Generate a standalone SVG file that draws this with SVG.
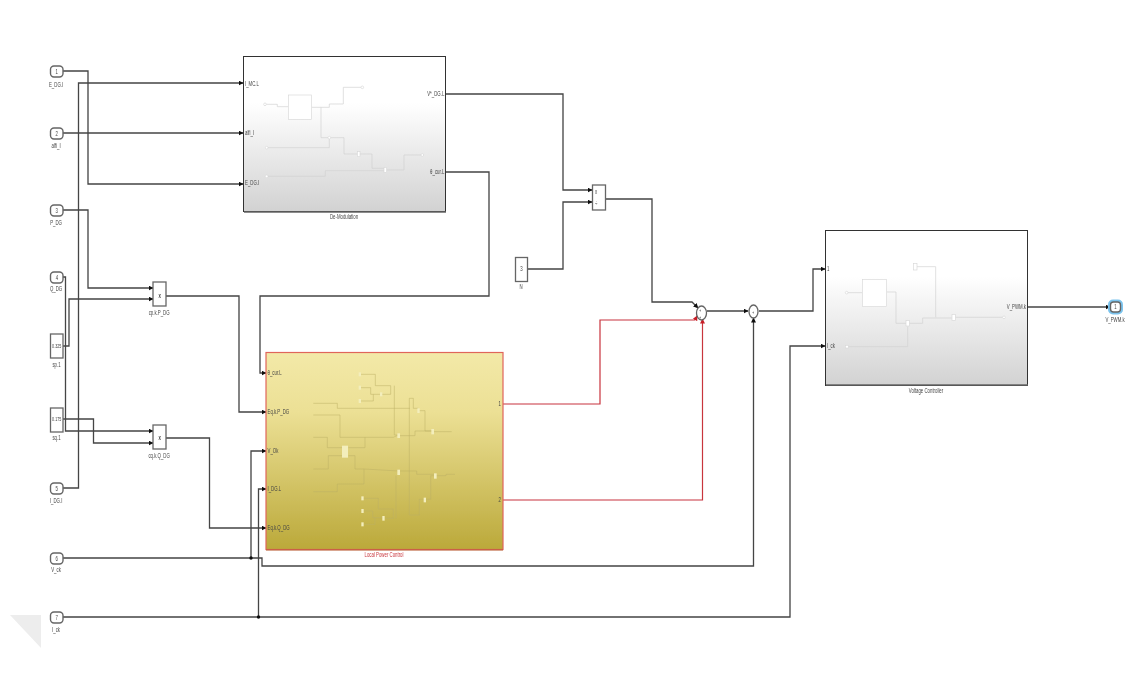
<svg xmlns="http://www.w3.org/2000/svg" width="1129" height="673" viewBox="0 0 1129 673">
<style>
text{font-family:"Liberation Sans",Arial,sans-serif;font-size:7px;fill:#444;text-anchor:middle;transform-box:fill-box;transform-origin:center;transform:scaleX(.62)}
text.l{text-anchor:start;transform-origin:left center}
text.r{text-anchor:end;transform-origin:right center}
.w{fill:none;stroke:#444;stroke-width:1.300}
.red{fill:none;stroke:#c8343c;stroke-width:1.200}
.b{fill:#fff;stroke:#666;stroke-width:1.300}
.s{fill:#fff;stroke:#666;stroke-width:1.400}
.ghost{fill:none;stroke:#d2d2d2;stroke-width:2}
.gb{fill:#fff;stroke:#d8d8d8;stroke-width:2}
.gy{fill:none;stroke:#bcb066;stroke-width:1.500}
.yb{fill:#f3eebc;stroke:none}
</style>
<defs>
<filter id="soft" x="0" y="0" width="1129" height="673" filterUnits="userSpaceOnUse"><feGaussianBlur stdDeviation=".35"/></filter>
<linearGradient id="g" x1="0" y1="0" x2="0" y2="1"><stop offset=".3" stop-color="#fff"/><stop offset="1" stop-color="#d2d2d2"/></linearGradient>
<linearGradient id="y" x1="0" y1="0" x2="0" y2="1"><stop offset="0" stop-color="#f3e9a8"/><stop offset=".3" stop-color="#ece095"/><stop offset="1" stop-color="#bba93a"/></linearGradient>
<marker id="a" markerWidth="5" markerHeight="5" refX="4.500" refY="2.500" orient="auto" markerUnits="userSpaceOnUse"><path d="M0 0L5 2.500L0 5Z" fill="#111"/></marker>
<marker id="ar" markerWidth="5" markerHeight="5" refX="4.500" refY="2.500" orient="auto" markerUnits="userSpaceOnUse"><path d="M0 0L5 2.500L0 5Z" fill="#c81e28"/></marker>
</defs>
<g filter="url(#soft)">
<path d="M10 615H41V648Z" fill="#ededed"/>

<g id="connectors">
<path class="w" marker-end="url(#a)" d="M63 71H88V184H243"/>
<path class="w" marker-end="url(#a)" d="M63 488H78.500V83H243"/>
<path class="w" marker-end="url(#a)" d="M63 133H243"/>
<path class="w" marker-end="url(#a)" d="M63 210H88V288H153"/>
<path class="w" marker-end="url(#a)" d="M63 277H65.500V431H153"/>
<path class="w" marker-end="url(#a)" d="M63 346H69V299H153"/>
<path class="w" marker-end="url(#a)" d="M63 419H93.500V443H153"/>
<path class="w" marker-end="url(#a)" d="M165 296H239V412H266"/>
<path class="w" marker-end="url(#a)" d="M165 438H209.500V528H266"/>
<path class="w" marker-end="url(#a)" d="M445 94H563V190H592"/>
<path class="w" marker-end="url(#a)" d="M527 269H563V202H592"/>
<path class="w" marker-end="url(#a)" d="M445 172H489V296H260V373H266"/>
<path class="w" marker-end="url(#a)" d="M606 199H652V302H692L698 308"/>
<path class="red" marker-end="url(#ar)" d="M503 404H600V320H695L697 316"/>
<path class="red" marker-end="url(#ar)" d="M503 500H702.500V319"/>
<path class="w" marker-end="url(#a)" d="M707 311H748"/>
<path class="w" marker-end="url(#a)" d="M63 558H262V566H753.500V318"/>
<path class="w" marker-end="url(#a)" d="M251 558V451H266"/>
<path class="w" marker-end="url(#a)" d="M63 617H790V346H825"/>
<path class="w" marker-end="url(#a)" d="M258.500 617V489H266"/>
<path class="w" marker-end="url(#a)" d="M759 311H813V269H825"/>
<path class="w" marker-end="url(#a)" d="M1027 307H1110"/>
<circle cx="251" cy="558" r="1.700" fill="#111"/>
<circle cx="258.500" cy="617" r="1.700" fill="#111"/>
</g>

<g id="in1"><rect class="s" x="50.500" y="66" width="12.500" height="11" rx="3.500"/><text x="56.700" y="74">1</text><text x="56" y="87">E_DG.I</text></g>
<g id="in2"><rect class="s" x="50.500" y="128" width="12.500" height="11" rx="3.500"/><text x="56.700" y="136">2</text><text x="56" y="148">alfi_I</text></g>
<g id="in3"><rect class="s" x="50.500" y="205" width="12.500" height="11" rx="3.500"/><text x="56.700" y="213">3</text><text x="56" y="225">P_DG</text></g>
<g id="in4"><rect class="s" x="50.500" y="272" width="12.500" height="11" rx="3.500"/><text x="56.700" y="280">4</text><text x="56" y="291">Q_DG</text></g>
<g id="in5"><rect class="s" x="50.500" y="483" width="12.500" height="11" rx="3.500"/><text x="56.700" y="491">5</text><text x="56" y="503">I_DG.I</text></g>
<g id="in6"><rect class="s" x="50.500" y="553" width="12.500" height="11" rx="3.500"/><text x="56.700" y="561">6</text><text x="56" y="572">V_ck</text></g>
<g id="in7"><rect class="s" x="50.500" y="612" width="12.500" height="11" rx="3.500"/><text x="56.700" y="620">7</text><text x="56" y="632">I_ck</text></g>

<g id="const-sp"><rect class="b" x="50.500" y="334" width="12.500" height="24"/><text x="56.700" y="348.500" style="font-size:6px">0.325</text><text x="56.500" y="367">sp.1</text></g>
<g id="const-sq"><rect class="b" x="50.500" y="408" width="12.500" height="24"/><text x="56.700" y="421.500" style="font-size:6px">0.175</text><text x="56.500" y="440">sq.1</text></g>
<g id="const-n"><rect class="b" x="515.500" y="257.500" width="12" height="24"/><text x="521.500" y="271">3</text><text x="521" y="289">N</text></g>

<g id="prod-p"><rect class="b" x="153" y="282" width="13" height="24"/><text x="159.500" y="298" style="font-weight:bold">x</text><text x="159" y="315">cp.k.P_DG</text></g>
<g id="prod-q"><rect class="b" x="153" y="425" width="13" height="24"/><text x="159.500" y="440" style="font-weight:bold">x</text><text x="159" y="458">cq.k.Q_DG</text></g>
<g id="prod-n"><rect class="b" x="592.500" y="185" width="13" height="25"/><text x="596" y="194">x</text><text x="596" y="206">÷</text></g>

<g id="sum1"><ellipse cx="701.500" cy="313" rx="5" ry="7" fill="#fff" stroke="#666" stroke-width="1.300"/><text x="700" y="312" style="font-size:5px">+</text><text x="700" y="319" style="font-size:5px">+</text></g>
<g id="sum2"><ellipse cx="753.500" cy="311.500" rx="4.500" ry="6.500" fill="#fff" stroke="#666" stroke-width="1.300"/><text x="753" y="314" style="font-size:5px">+</text></g>

<g id="demod">
<rect x="243.500" y="56.500" width="202" height="155" fill="url(#g)" stroke="#333"/>
<path d="M244 212H446" stroke="#666" stroke-width="1.500"/>
<g transform="translate(240 50) scale(.33333)">
<path class="ghost" d="M75 163H112V170H145M215 172H268V162H310V112H365M243 172V263H268M80 293H268V263M268 263H312V312H355M360 312H396V355H432M80 379H256V362H432M438 360H492V315H547"/>
<circle class="gb" cx="75" cy="163" r="4"/><circle class="gb" cx="367" cy="112" r="4"/><circle class="gb" cx="80" cy="293" r="4"/><circle class="gb" cx="80" cy="379" r="4"/><circle class="gb" cx="547" cy="315" r="4"/><circle class="gb" cx="268" cy="263" r="4"/>
<rect class="gb" x="145" y="135" width="70" height="73"/><rect class="gb" x="352" y="305" width="8" height="15"/><rect class="gb" x="432" y="352" width="8" height="15"/>
</g>
<text class="l" x="245" y="86">I_MC.L</text><text class="l" x="245" y="135">alfi_I</text><text class="l" x="245" y="185">E_DG.I</text>
<text class="r" x="444" y="96">V*_DG.L</text><text class="r" x="444" y="174">θ_cur.L</text>
<text x="344" y="219">De-Modulation</text>
</g>

<g id="lpc">
<rect x="266" y="352.500" width="237" height="197" fill="url(#y)" stroke="#e0655a" stroke-width="1.200"/>
<path d="M266 550H503" stroke="#b55a34" stroke-width="1.200"/>
<g transform="translate(260 345) scale(.33333)">
<path class="gy" d="M300 88H346V122H392M300 128H332V148H362M300 168H340V148M365 148H392V122M403 122V270H415M160 175H232V190H450M160 210H240V277M160 277H202V308H247M240 277H315V308H265M315 277H400L415 270M160 372H205V332H247M265 332H285V372H312L415 378M160 440H232V417H312V372M418 272H465V258H518M448 160H460V190H475M478 197H495V258H518M518 260H575M448 160V510H478V463H495M498 463H512V392H525M418 378H470V388H525M525 392H558V388H585M408 392V520M305 460H355V492H400V520M305 498H338V518H370M305 538H345V518M375 520H400"/>
<rect x="246" y="302" width="18" height="36" fill="#f3eebc"/>
<g class="yb"><rect x="296" y="82" width="7" height="12"/><rect x="296" y="122" width="7" height="12"/><rect x="296" y="162" width="7" height="12"/><rect x="360" y="142" width="7" height="12"/><rect x="412" y="265" width="8" height="14"/><rect x="472" y="190" width="7" height="14"/><rect x="514" y="252" width="8" height="16"/><rect x="412" y="374" width="8" height="16"/><rect x="522" y="385" width="8" height="16"/><rect x="491" y="458" width="7" height="14"/><rect x="304" y="454" width="7" height="12"/><rect x="304" y="492" width="7" height="12"/><rect x="304" y="532" width="7" height="12"/><rect x="367" y="513" width="7" height="14"/></g>
</g>
<text class="l" x="267.500" y="375">θ_cur.L</text><text class="l" x="267.500" y="414">Eq.k.P_DG</text><text class="l" x="267.500" y="453">V_Ok</text><text class="l" x="267.500" y="491">I_DG.L</text><text class="l" x="267.500" y="530">Eq.k.Q_DG</text>
<text class="r" x="501" y="406">1</text><text class="r" x="501" y="502">2</text>
<text x="384" y="557" style="fill:#c8343c">Local Power Control</text>
</g>

<g id="voltage">
<rect x="825.500" y="230.500" width="202" height="155" fill="url(#g)" stroke="#333"/>
<path d="M826 385H1028" stroke="#666" stroke-width="1.500"/>
<g transform="translate(780 220) scale(.33333)">
<path class="ghost" d="M200 218H247M320 216H348V310H380M388 310H428V294H515M405 140H467V292M525 292H672M200 380H383V320"/>
<circle class="gb" cx="200" cy="218" r="4"/><circle class="gb" cx="672" cy="292" r="4"/><rect class="gb" x="196" y="376" width="9" height="8"/>
<rect class="gb" x="247" y="178" width="73" height="82"/><rect class="gb" x="401" y="130" width="10" height="20"/><rect class="gb" x="378" y="302" width="10" height="16"/><rect class="gb" x="516" y="283" width="10" height="18"/>
</g>
<text class="l" x="827" y="271">1</text><text class="l" x="827" y="348">I_ck</text><text class="r" x="1026" y="309">V_PWM.k</text>
<text x="926" y="393">Voltage Controller</text>
</g>

<g id="out1">
<rect x="1108" y="299.500" width="15" height="15" rx="5" fill="#7cc4ee"/>
<rect class="s" x="1110.500" y="302" width="10" height="10" rx="3" stroke="#1c5f90"/>
<text x="1115.500" y="309.500">1</text><text x="1115" y="322">V_PWM.k</text>
</g>
</g>
</svg>
